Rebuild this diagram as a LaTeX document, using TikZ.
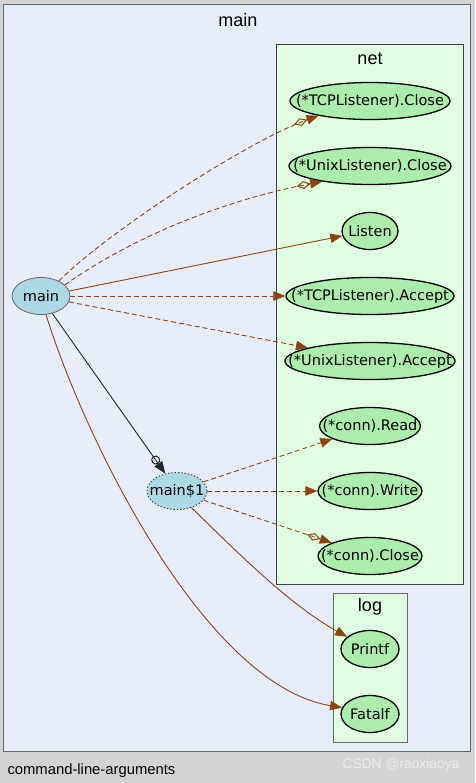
\documentclass[tikz,border=0pt]{standalone}
\usepackage{fontspec}
\setmainfont{Liberation Sans}
\newfontfamily\fnfont{DejaVu Sans}
\usetikzlibrary{arrows.meta,shapes.geometric}
\definecolor{pagegray}{RGB}{211,211,211}
\definecolor{mainbg}{RGB}{230,236,250}
\definecolor{netbg}{RGB}{224,255,224}
\definecolor{fngreen}{RGB}{172,236,172}
\definecolor{fnblue}{RGB}{173,216,230}
\definecolor{callbrown}{RGB}{139,69,19}
\definecolor{framegray}{RGB}{100,104,108}
\newcommand\colorCall{callbrown}
\newcommand\colorGo{black!85}
\newcommand\fnHeight{37}
\newcommand\fnlabel[1]{\makebox[0pt]{#1}}
\tikzset{
	fn/.style={ellipse, draw=black, line width=1.3pt, fill=fngreen, inner sep=0pt,
		minimum height=\fnHeight, font=\fnfont\fontsize{14.5pt}{17pt}\selectfont},
	clusterlbl/.style={font=\fontsize{18pt}{22pt}\selectfont},
	call/.style={draw=\colorCall, line width=0.9pt, -{Triangle[length=12pt,width=9.5pt]}},
	dyn/.style={call, dash pattern=on 5pt off 3pt},
	iface/.style={dyn, -{Diamond[open,length=14pt,width=8pt,line width=1pt] Triangle[length=12pt,width=9.5pt]}},
	gocall/.style={draw=\colorGo, line width=0.9pt, -{Circle[open,length=9pt,line width=1pt] Triangle[length=12pt,width=9.5pt]}}
}

\begin{document}
\begin{tikzpicture}[x=1pt,y=-1pt]
	\useasboundingbox (0,0) rectangle (475,783);
	\fill[pagegray] (0,0) rectangle (475,783);

	% clusters
	\draw[fill=mainbg, draw=framegray, line width=1pt] (3.5,4.5) rectangle (470.5,751.5);
	\node[clusterlbl] (mainlbl) at (238,20) {main};
	\draw[fill=netbg, draw=black!75, line width=1pt] (276.5,44.5) rectangle (463.5,584.5);
	\node[clusterlbl] (netlbl) at (370,59) {net};
	\draw[fill=netbg, draw=framegray, line width=1.3pt] (333.5,593.5) rectangle (407.5,742.5);
	\node[clusterlbl] (loglbl) at (370,607) {log};

	% functions
	\node[fn, fill=fnblue, draw=framegray, line width=0.8pt, minimum width=58] (main) at (41,296) {\fnlabel{main}};
	\node[fn, fill=fnblue, draw=black!80, dotted, line width=0.9pt, minimum width=60] (mainone) at (177,491) {\fnlabel{main\$1}};
	\foreach \id/\txt/\w/\y in {tcpclose/{(*TCPListener).Close}/160/101, unixclose/{(*UnixListener).Close}/162/166,
		listen/Listen/56/231, tcpaccept/{(*TCPListener).Accept}/168/296, unixaccept/{(*UnixListener).Accept}/170/361,
		connread/{(*conn).Read}/101/426, connwrite/{(*conn).Write}/104/491, connclose/{(*conn).Close}/104/556,
		printf/Printf/58/649, fatalf/Fatalf/58/714}{
		\node[fn, minimum width=\w] (\id) at (370,\y) {\fnlabel{\txt}};
	}

	% calls
	\draw[iface] (main.40) .. controls (110,230) and (250,140) .. (tcpclose.196);
	\draw[iface] (main.25) .. controls (150,225) and (250,195) .. (unixclose.198);
	\draw[call] (main.10) -- (listen.190);
	\draw[dyn] (main.0) -- (tcpaccept.180);
	\draw[dyn] (main.-12) -- (unixaccept.168);
	\draw[gocall] (main.-57) -- (mainone.124);
	\draw[call] (main.-75) .. controls (85,440) and (205,685) .. (fatalf.167);
	\draw[dyn] (mainone.19) -- (connread.199);
	\draw[dyn] (mainone.0) -- (connwrite.180);
	\draw[iface] (mainone.-19) -- (connclose.161);
	\draw[call] (mainone.-49) .. controls (240,555) and (290,605) .. (printf.152);

	\node[anchor=west, font=\fontsize{14.8pt}{17pt}\selectfont] (pkg) at (4,771) {command-line-arguments};
	\node[font=\fontsize{13.8pt}{16pt}\selectfont, text=white!93!black] (mark) at (401,765) {CSDN @raoxiaoya};
\end{tikzpicture}
\end{document}
